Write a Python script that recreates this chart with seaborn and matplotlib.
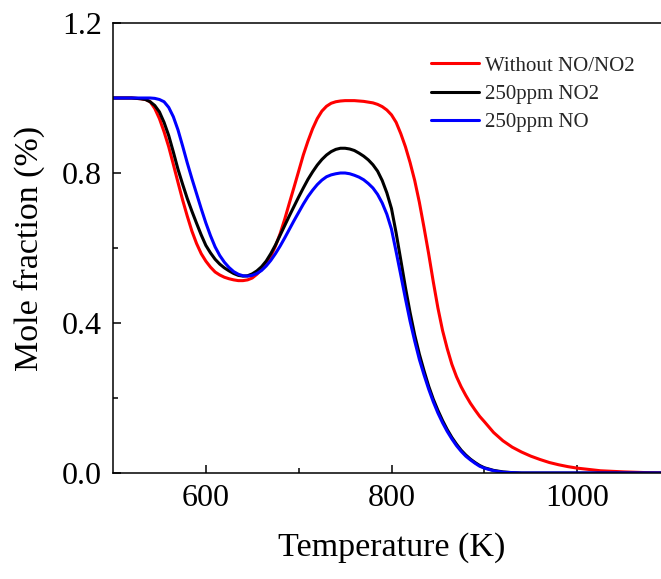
import numpy as np
import pandas as pd
import matplotlib
matplotlib.use("Agg")
import matplotlib.pyplot as plt
import seaborn as sns

# Temperature grid (K)
temperature = [500, 520, 530, 535, 540, 545, 550, 555, 560, 565, 570, 575, 580,
               585, 590, 595, 600, 605, 610, 615, 620, 625, 630, 635, 640, 645,
               650, 655, 660, 665, 670, 675, 680, 685, 690, 695, 700, 705, 710,
               715, 720, 725, 730, 735, 740, 745, 750, 755, 760, 765, 770, 775,
               780, 785, 790, 795, 800, 805, 810, 815, 820, 825, 830, 835, 840,
               845, 850, 855, 860, 865, 870, 875, 880, 885, 890, 895, 900, 910,
               920, 930, 940, 950, 960, 970, 980, 990, 1000, 1025, 1050, 1075, 1100]

# Mole fraction for each case
without_no_no2 = [1.0, 1.0, 0.998, 0.996, 0.99, 0.972, 0.945, 0.91, 0.87, 0.823,
                  0.775, 0.728, 0.685, 0.645, 0.612, 0.585, 0.565, 0.549, 0.536,
                  0.528, 0.522, 0.518, 0.515, 0.513, 0.513, 0.515, 0.52, 0.53,
                  0.543, 0.558, 0.578, 0.605, 0.638, 0.677, 0.72, 0.762, 0.805,
                  0.848, 0.885, 0.918, 0.945, 0.965, 0.978, 0.986, 0.99, 0.992,
                  0.993, 0.993, 0.993, 0.992, 0.991, 0.989, 0.987, 0.983, 0.977,
                  0.968, 0.955, 0.935, 0.905, 0.87, 0.828, 0.78, 0.722, 0.655,
                  0.585, 0.51, 0.44, 0.38, 0.332, 0.29, 0.257, 0.23, 0.207, 0.186,
                  0.168, 0.151, 0.137, 0.108, 0.086, 0.069, 0.056, 0.045, 0.036,
                  0.028, 0.022, 0.017, 0.013, 0.006, 0.003, 0.001, 0.0]

ppm250_no2 = [1.0, 1.0, 0.998, 0.996, 0.99, 0.98, 0.963, 0.935, 0.90, 0.856,
              0.81, 0.77, 0.732, 0.698, 0.666, 0.635, 0.607, 0.587, 0.57, 0.557,
              0.547, 0.539, 0.532, 0.527, 0.525, 0.526, 0.531, 0.539, 0.55, 0.565,
              0.585, 0.608, 0.634, 0.66, 0.686, 0.711, 0.736, 0.76, 0.783, 0.803,
              0.821, 0.836, 0.848, 0.857, 0.863, 0.866, 0.866, 0.864, 0.86, 0.853,
              0.845, 0.835, 0.822, 0.805, 0.78, 0.747, 0.705, 0.64, 0.568, 0.495,
              0.428, 0.368, 0.317, 0.273, 0.232, 0.197, 0.167, 0.14, 0.116, 0.095,
              0.077, 0.061, 0.048, 0.037, 0.028, 0.02, 0.014, 0.007, 0.003, 0.001,
              0.0, 0.0, 0.0, 0.0, 0.0, 0.0, 0.0, 0.0, 0.0, 0.0, 0.0]

ppm250_no = [1.0, 1.0, 1.0, 1.0, 1.0, 0.999, 0.996, 0.99, 0.975, 0.95, 0.915,
             0.872, 0.827, 0.785, 0.745, 0.705, 0.667, 0.633, 0.603, 0.58, 0.562,
             0.548, 0.537, 0.53, 0.526, 0.525, 0.527, 0.532, 0.54, 0.552, 0.567,
             0.585, 0.605, 0.627, 0.65, 0.673, 0.695, 0.717, 0.737, 0.754, 0.769,
             0.781, 0.79, 0.795, 0.798, 0.8, 0.8, 0.798, 0.794, 0.789, 0.782,
             0.772, 0.76, 0.743, 0.72, 0.69, 0.65, 0.59, 0.528, 0.465, 0.405,
             0.352, 0.303, 0.262, 0.224, 0.19, 0.16, 0.134, 0.111, 0.091, 0.073,
             0.058, 0.045, 0.035, 0.026, 0.018, 0.013, 0.006, 0.002, 0.001,
             0.0, 0.0, 0.0, 0.0, 0.0, 0.0, 0.0, 0.0, 0.0, 0.0, 0.0]

labels = ["Without NO/NO2", "250ppm NO2", "250ppm NO"]
colors = ["#ff0000", "#000000", "#0000ff"]

df = pd.concat([
    pd.DataFrame({"T": temperature, "x": without_no_no2, "case": labels[0]}),
    pd.DataFrame({"T": temperature, "x": ppm250_no2, "case": labels[1]}),
    pd.DataFrame({"T": temperature, "x": ppm250_no, "case": labels[2]}),
], ignore_index=True)

sns.set_theme(style="ticks")
plt.rcParams["font.family"] = ["Liberation Serif", "DejaVu Serif"]
plt.rcParams["lines.solid_joinstyle"] = "round"
plt.rcParams["lines.solid_capstyle"] = "round"

fig = plt.figure(figsize=(6.61, 5.79), dpi=100)
# right spine sits just outside the picture, as in the original
ax = fig.add_axes([113 / 661, 106 / 579, 557 / 661, 450 / 579])

sns.lineplot(data=df, x="T", y="x", hue="case", hue_order=labels,
             palette=dict(zip(labels, colors)), estimator=None, sort=False,
             linewidth=2.2, ax=ax)

ax.set_xlim(500, 1100)
ax.set_ylim(0, 1.2)
ax.set_xticks([600, 800, 1000])
ax.set_xticks([700, 900], minor=True)
ax.set_yticks([0.0, 0.4, 0.8, 1.2])
ax.set_yticks([0.2, 0.6, 1.0], minor=True)
ax.set_yticklabels(["0.0", "0.4", "0.8", "1.2"])

ax.tick_params(which="major", direction="in", length=6, width=1.1,
               labelsize=23, pad=8, color="black", labelcolor="black")
ax.tick_params(which="minor", direction="in", length=3.5, width=1.1, color="black")
for s in ax.spines.values():
    s.set_linewidth(1.1)
    s.set_color("black")

ax.set_xlabel("Temperature (K)", fontsize=24.5, labelpad=14, color="black")
ax.set_ylabel("Mole fraction (%)", fontsize=24.5, labelpad=12, color="black")

leg = ax.legend(loc="upper left", bbox_to_anchor=(431 / 661, 1 - 56 / 579),
                bbox_transform=fig.transFigure, frameon=False, fontsize=15,
                handlelength=2.3, handletextpad=0.3, labelspacing=0.42,
                borderpad=0, borderaxespad=0)
for line in leg.get_lines():
    line.set_linewidth(2.2)

fig.savefig("out.png", dpi=100)
